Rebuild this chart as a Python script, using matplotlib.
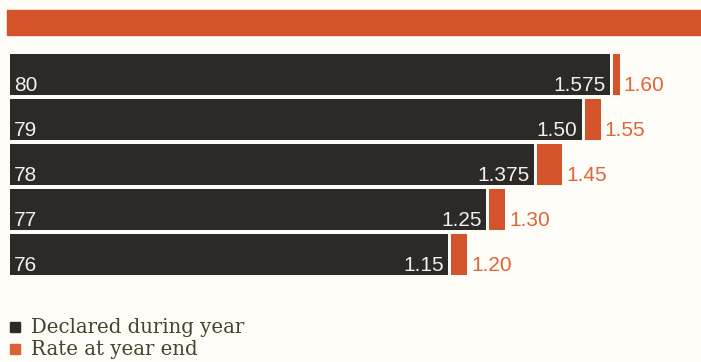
import matplotlib.pyplot as plt
from matplotlib.patches import Rectangle

# date
years = ['80', '79', '78', '77', '76']
declared = [1.575, 1.50, 1.375, 1.25, 1.15]
year_end = [1.60, 1.55, 1.45, 1.30, 1.20]
declared_lbl = ['1.575', '1.50', '1.375', '1.25', '1.15']
year_end_lbl = ['1.60', '1.55', '1.45', '1.30', '1.20']

dark = '#2b2a27'
orange = '#d4532b'
bg = '#fdfcf6'

W, H = 701, 362
px = 381.0  # pixeli pe unitate
fig = plt.figure(figsize=(W / 100, H / 100), dpi=100, facecolor=bg)
ax = fig.add_axes([0, 0, 1, 1])
ax.set_facecolor(bg)
ax.set_xlim(-10 / px, (W - 10) / px)
ax.set_ylim((H - 74.5) / 45, -74.5 / 45)
ax.axis('off')

gap = 3 / px
pos = list(range(len(years)))
ax.barh(pos, declared, height=41 / 45, color=dark, left=0)
ax.barh(pos, [r - d - gap for r, d in zip(year_end, declared)], height=41 / 45,
        left=[d + gap for d in declared], color=orange)

fnt = 'Liberation Sans'
for i in pos:
    yb = i + 16.5 / 45
    ax.text(4 / px, yb, years[i], color='#f2f0ea', fontsize=15, family=fnt, va='baseline', ha='left')
    ax.text(declared[i] - 4 / px, yb, declared_lbl[i], color='#f2f0ea', fontsize=15, family=fnt,
            va='baseline', ha='right')
    ax.text(year_end[i] + 4 / px, yb, year_end_lbl[i], color='#e0653b', fontsize=15, family=fnt,
            va='baseline', ha='left')

# banda de sus
fig.patches.append(Rectangle((7 / W, 1 - 35 / H), 1, 25 / H, transform=fig.transFigure,
                             color=orange, zorder=0))

# legenda
leg = [('Declared during year', dark), ('Rate at year end', '#d8623a')]
for k, (txt, c) in enumerate(leg):
    ytop = 322 + k * 22
    fig.patches.append(Rectangle((10 / W, 1 - (ytop + 10) / H), 10 / W, 10 / H,
                                 transform=fig.transFigure, color=c))
    fig.text(31 / W, 1 - (ytop + 11) / H, txt, fontsize=14.2, family='DejaVu Serif',
             color='#45452f', va='baseline', ha='left')

plt.savefig('out.png', dpi=100, facecolor=bg)
